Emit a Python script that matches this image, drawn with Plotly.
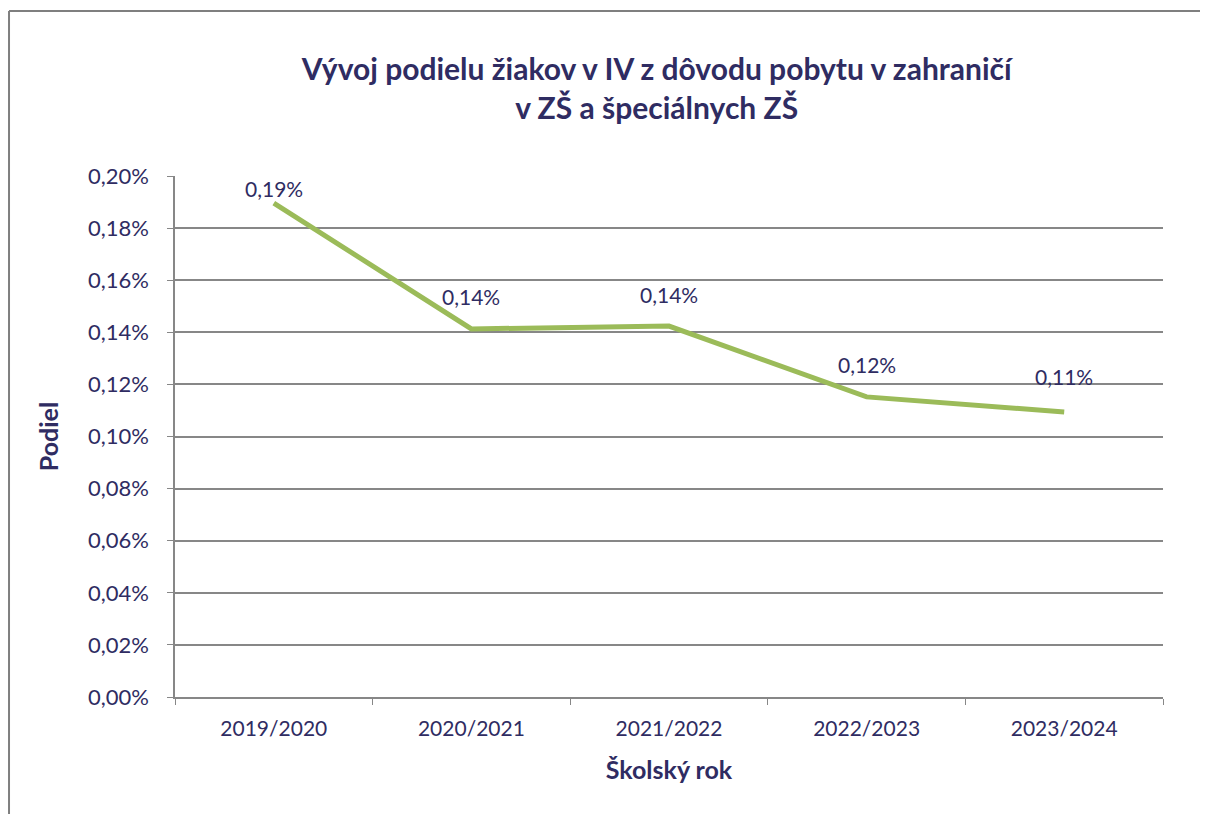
import plotly.graph_objects as go

years = ["2019/2020", "2020/2021", "2021/2022", "2022/2023", "2023/2024"]
share = [0.001896, 0.001413, 0.001424, 0.001152, 0.001094]
labels = ["0,19%", "0,14%", "0,14%", "0,12%", "0,11%"]
label_shift = [15, 32, 32, 32, 36]

TXT = "#2F2C62"
GRID = "#878787"
FONT = "Lato, Open Sans, sans-serif"

fig = go.Figure()
fig.add_trace(go.Scatter(x=years, y=share, mode="lines",
                         line=dict(color="#9BBB59", width=5), hoverinfo="skip"))

for x, y, t, s in zip(years, share, labels, label_shift):
    fig.add_annotation(x=x, y=y, text=t, showarrow=False, yshift=s,
                       font=dict(size=21, color=TXT, family=FONT))

# outer chart frame (partially visible)
frame = dict(color="#7F7F7F", width=2)
fig.add_shape(type="line", xref="paper", yref="paper", x0=-0.168, x1=1.06,
              y0=1.3167, y1=1.3167, line=frame)
fig.add_shape(type="line", xref="paper", yref="paper", x0=-0.168, x1=-0.168,
              y0=1.3167, y1=-0.25, line=frame)

fig.update_layout(
    width=1208, height=814,
    margin=dict(l=167, r=53, t=168, b=125),
    paper_bgcolor="white", plot_bgcolor="white",
    separators=", ",
    showlegend=False,
    font=dict(family=FONT, color=TXT),
    title=dict(text="<b>Vývoj podielu žiakov v IV z dôvodu pobytu v zahraničí<br>v ZŠ a špeciálnych ZŠ</b>",
               x=0.537, xanchor="center", y=0.912, yanchor="middle",
               font=dict(size=30, color=TXT, family=FONT)),
    xaxis=dict(type="category", range=[-0.5, 4.5], tickson="boundaries",
               ticks="outside", ticklen=6, ticklabelstandoff=12,
               tickcolor=GRID, showline=True, linecolor=GRID, linewidth=1.5,
               showgrid=False, tickfont=dict(size=21, color=TXT),
               title=dict(text="<b>Školský rok</b>", font=dict(size=25, color=TXT), standoff=23)),
    yaxis=dict(range=[0, 0.002], dtick=0.0002, tickformat=".2%",
               showgrid=True, gridcolor=GRID, gridwidth=1.5,
               showline=True, linecolor=GRID, linewidth=1.5,
               ticks="outside", ticklen=6, tickcolor=GRID, ticklabelstandoff=14,
               tickfont=dict(size=22, color=TXT), zeroline=False,
               title=dict(text="<b>Podiel</b>", font=dict(size=25, color=TXT), standoff=22)),
)

fig.write_html("out.html")
